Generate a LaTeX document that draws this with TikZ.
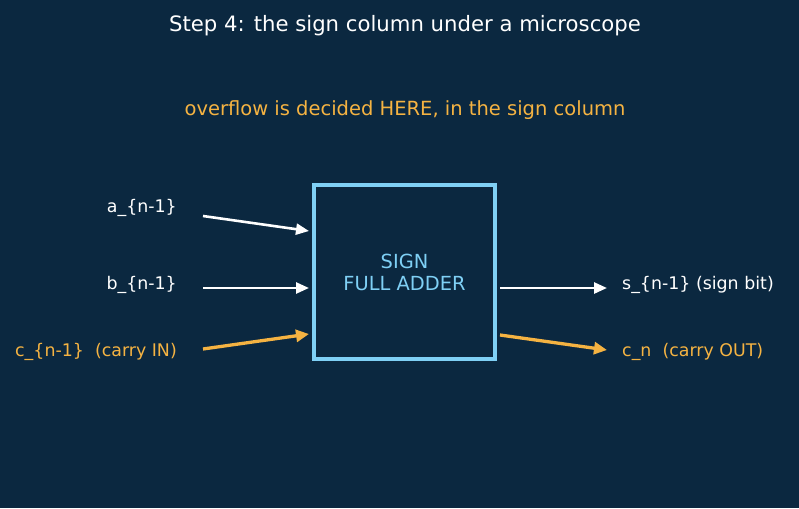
\documentclass[tikz,border=0pt]{standalone}
\usepackage{fontspec}
\setmainfont{DejaVu Sans}
\usetikzlibrary{arrows.meta}
\definecolor{bg}{HTML}{0B2840}
\definecolor{boxblue}{HTML}{7FD0F5}
\definecolor{orng}{HTML}{F5B342}
\tikzset{
  lbl/.style={font=\fontsize{17.4}{20}\selectfont, inner sep=0pt},
  wire/.style={draw=white, line width=2.6pt, -{Triangle[length=13pt,width=11pt]}},
  owire/.style={draw=orng, line width=3.3pt, -{Triangle[length=13pt,width=12pt]}},
}
\begin{document}
\begin{tikzpicture}[x=1pt,y=-1pt]
\fill[bg] (0,0) rectangle (799,508);
\useasboundingbox (0,0) rectangle (799,508);
\node[text=white, font=\fontsize{21.2}{24}\selectfont] (title) at (405,26) {Step 4: the sign column under a microscope};
\node[text=orng, font=\fontsize{19.5}{22}\selectfont] (sub) at (405,110) {overflow is decided HERE, in the sign column};
\node[draw=boxblue, line width=3.2pt, minimum width=181pt, minimum height=174pt, inner sep=0pt,
      text=boxblue, align=center, font=\fontsize{19.4}{22}\selectfont] (fa) at (404.5,272) {SIGN\\FULL ADDER};
\node[lbl, text=white, anchor=east] (a) at (177,208) {a\_\{n-1\}};
\node[lbl, text=white, anchor=east] (b) at (177,285) {b\_\{n-1\}};
\node[lbl, text=orng, anchor=east] (c) at (177,352) {c\_\{n-1\}\ \ (carry IN)};
\node[lbl, text=white, anchor=west] (s) at (622,285) {s\_\{n-1\} (sign bit)};
\node[lbl, text=orng, anchor=west] (co) at (622,352) {c\_n\ \ (carry OUT)};
\coordinate (a1) at (203,216); \coordinate (a2) at (309,231);
\coordinate (b1) at (203,288); \coordinate (b2) at (309,288);
\coordinate (c1) at (203,349); \coordinate (c2) at (309,334);
\coordinate (s1) at (500,288); \coordinate (s2) at (607,288);
\coordinate (o1) at (500,335); \coordinate (o2) at (607,350);
\draw[wire] (a1) -- (a2);
\draw[wire] (b1) -- (b2);
\draw[owire] (c1) -- (c2);
\draw[wire] (s1) -- (s2);
\draw[owire] (o1) -- (o2);
\end{tikzpicture}
\end{document}
